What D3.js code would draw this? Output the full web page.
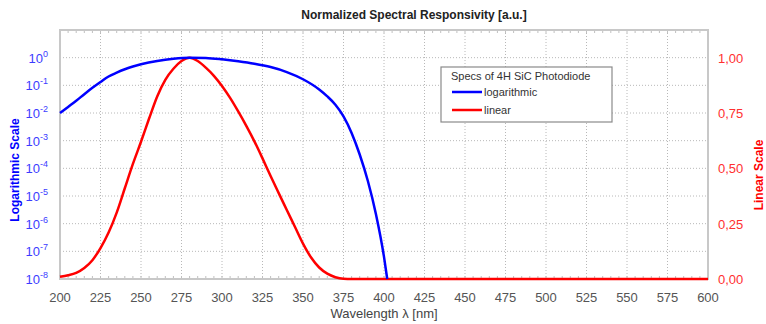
<!DOCTYPE html>
<html>
<head>
<meta charset="utf-8">
<script src="https://cdn.jsdelivr.net/npm/d3@7"></script>
<style>
  body { margin: 0; background: #fff; }
  svg { display: block; font-family: Arial, "Liberation Sans", sans-serif; }
</style>
</head>
<body>
<div class="chart"></div>
<script>
////////////////////////////////// data

// wavelength grid for the log curve [nm] and normalized responsivity
var logWavelength = [200, 205, 210, 215, 220, 225, 230, 235, 240, 245, 250, 260, 270, 280, 290, 300,
                     310, 320, 330, 340, 350, 360, 365, 370, 375, 380, 385, 390, 395, 400, 402];
var logValues = [0.0100, 0.0166, 0.0275, 0.0479, 0.0813, 0.132, 0.209, 0.288, 0.380, 0.479, 0.575,
                 0.759, 0.912, 1.000, 0.977, 0.871, 0.741, 0.603, 0.457, 0.302, 0.166, 0.0708,
                 0.0398, 0.0200, 0.00759, 0.00191, 3.16e-4, 3.55e-5, 2.24e-6, 6.3e-8, 1.0e-8];

// wavelength grid for the linear curve [nm]
var linWavelength = [200, 205, 210, 215, 220, 225, 230, 235, 240, 245, 250, 255, 260, 265, 270, 275,
                     280, 285, 290, 295, 300, 305, 310, 315, 320, 325, 330, 335, 340, 345, 350,
                     355, 360, 365, 370, 375, 380, 400, 500, 600];
var linValues = [0.010, 0.017, 0.028, 0.050, 0.085, 0.140, 0.210, 0.300, 0.410, 0.520, 0.620, 0.725,
                 0.825, 0.900, 0.950, 0.985, 1.000, 0.985, 0.955, 0.918, 0.872, 0.818, 0.757,
                 0.692, 0.622, 0.545, 0.465, 0.388, 0.312, 0.236, 0.160, 0.097, 0.052, 0.024,
                 0.008, 0.001, 0.000, 0.000, 0.000, 0.000];

var xTicks = d3.range(200, 601, 25);
var logTicks = [1e-8, 1e-7, 1e-6, 1e-5, 1e-4, 1e-3, 1e-2, 1e-1, 1e0];
var linTicks = [0, 0.25, 0.5, 0.75, 1.0];
var legendTitle = "Specs of 4H SiC Photodiode";
var legendNames = ["logarithmic", "linear"];

////////////////////////////////// chart

var width = 766, height = 324;
var margin = { top: 30, right: 58, bottom: 45, left: 60 };
var plotW = width - margin.left - margin.right;
var plotH = height - margin.top - margin.bottom;

var blue = "#0000ff", red = "#ff0000";

var svg = d3.select(".chart").append("svg").attr("width", width).attr("height", height);

var x = d3.scaleLinear().domain([200, 600]).range([0, plotW]);
var yLog = d3.scaleLog().domain([1e-8, 10]).range([plotH, 0]);
var yLin = d3.scaleLinear().domain([0, 1.125]).range([plotH, 0]);

var g = svg.append("g").attr("transform", "translate(" + margin.left + "," + margin.top + ")");

// grid
g.selectAll(".vgrid").data(xTicks.slice(1, -1)).enter().append("line")
    .attr("x1", function(d){ return x(d); }).attr("x2", function(d){ return x(d); })
    .attr("y1", 0).attr("y2", plotH)
    .style("stroke", "#b8b8b8").style("stroke-dasharray", "1,2");
g.selectAll(".hgrid").data(logTicks.slice(1)).enter().append("line")
    .attr("x1", 0).attr("x2", plotW)
    .attr("y1", function(d){ return yLog(d); }).attr("y2", function(d){ return yLog(d); })
    .style("stroke", "#b8b8b8").style("stroke-dasharray", "1,2");

// minor ticks along the frame
var minorX = d3.range(205, 600, 5);
g.selectAll(".mtop").data(minorX).enter().append("line")
    .attr("x1", function(d){ return x(d); }).attr("x2", function(d){ return x(d); })
    .attr("y1", 0).attr("y2", 3).style("stroke", "#c0c0c0");
g.selectAll(".mbot").data(minorX).enter().append("line")
    .attr("x1", function(d){ return x(d); }).attr("x2", function(d){ return x(d); })
    .attr("y1", plotH).attr("y2", plotH - 3).style("stroke", "#c0c0c0");

// frame
g.append("rect").attr("width", plotW).attr("height", plotH)
    .style("fill", "none").style("stroke", "#c8c8c8").style("stroke-width", 2);

// curves
var logLine = d3.line()
    .x(function(d, i){ return x(logWavelength[i]); })
    .y(function(d){ return yLog(d); })
    .curve(d3.curveMonotoneX);
var linLine = d3.line()
    .x(function(d, i){ return x(linWavelength[i]); })
    .y(function(d){ return yLin(d); })
    .curve(d3.curveMonotoneX);

g.append("path").datum(linValues).attr("d", linLine)
    .style("fill", "none").style("stroke", red).style("stroke-width", 2.5);
g.append("path").datum(logValues).attr("d", logLine)
    .style("fill", "none").style("stroke", blue).style("stroke-width", 2.5);

// x tick labels
g.selectAll(".xt").data(xTicks).enter().append("text")
    .attr("x", function(d){ return x(d); }).attr("y", plotH + 23)
    .attr("text-anchor", "middle").style("font-size", "13px").style("fill", "#555")
    .text(function(d){ return d; });

// left log tick labels
var lt = g.selectAll(".lt").data(logTicks).enter().append("text")
    .attr("x", -12).attr("y", function(d){ return yLog(d) + 5; })
    .attr("text-anchor", "end").style("font-size", "13px").style("fill", "#3c3cff");
lt.append("tspan").text("10");
lt.append("tspan").attr("dy", -6).style("font-size", "9px")
    .text(function(d){ return Math.round(Math.log10(d)); });

// right linear tick labels
g.selectAll(".rt").data(linTicks).enter().append("text")
    .attr("x", plotW + 10).attr("y", function(d){ return yLin(d) + 5; })
    .style("font-size", "13px").style("fill", "#ff3030")
    .text(function(d){ return d.toFixed(2).replace(".", ","); });

// titles
svg.append("text").attr("x", 414).attr("y", 19).attr("text-anchor", "middle")
    .style("font-size", "12px").style("font-weight", "bold").style("fill", "#222")
    .text("Normalized Spectral Responsivity [a.u.]");
svg.append("text").attr("x", 384).attr("y", 318).attr("text-anchor", "middle")
    .style("font-size", "13px").style("fill", "#444")
    .text("Wavelength \u03bb [nm]");
svg.append("text").attr("transform", "translate(19,170) rotate(-90)").attr("text-anchor", "middle")
    .style("font-size", "12px").style("font-weight", "bold").style("fill", blue)
    .text("Logarithmic Scale");
svg.append("text").attr("transform", "translate(763,175) rotate(-90)").attr("text-anchor", "middle")
    .style("font-size", "12px").style("font-weight", "bold").style("fill", red)
    .text("Linear Scale");

// legend
var lg = svg.append("g").attr("transform", "translate(441,67)");
lg.append("rect").attr("width", 171).attr("height", 55)
    .style("fill", "#fff").style("stroke", "#8a8a8a").style("stroke-width", 1.2);
lg.append("text").attr("x", 10).attr("y", 13).style("font-size", "11px").style("fill", "#333")
    .text(legendTitle);
var items = lg.selectAll(".li").data(legendNames).enter().append("g")
    .attr("transform", function(d, i){ return "translate(0," + (25 + i * 18) + ")"; });
items.append("line").attr("x1", 11).attr("x2", 41).attr("y1", 0).attr("y2", 0)
    .style("stroke", function(d, i){ return i === 0 ? blue : red; }).style("stroke-width", 2.5);
items.append("text").attr("x", 43).attr("y", 4).style("font-size", "11px").style("fill", "#333")
    .text(function(d){ return d; });
</script>
</body>
</html>
